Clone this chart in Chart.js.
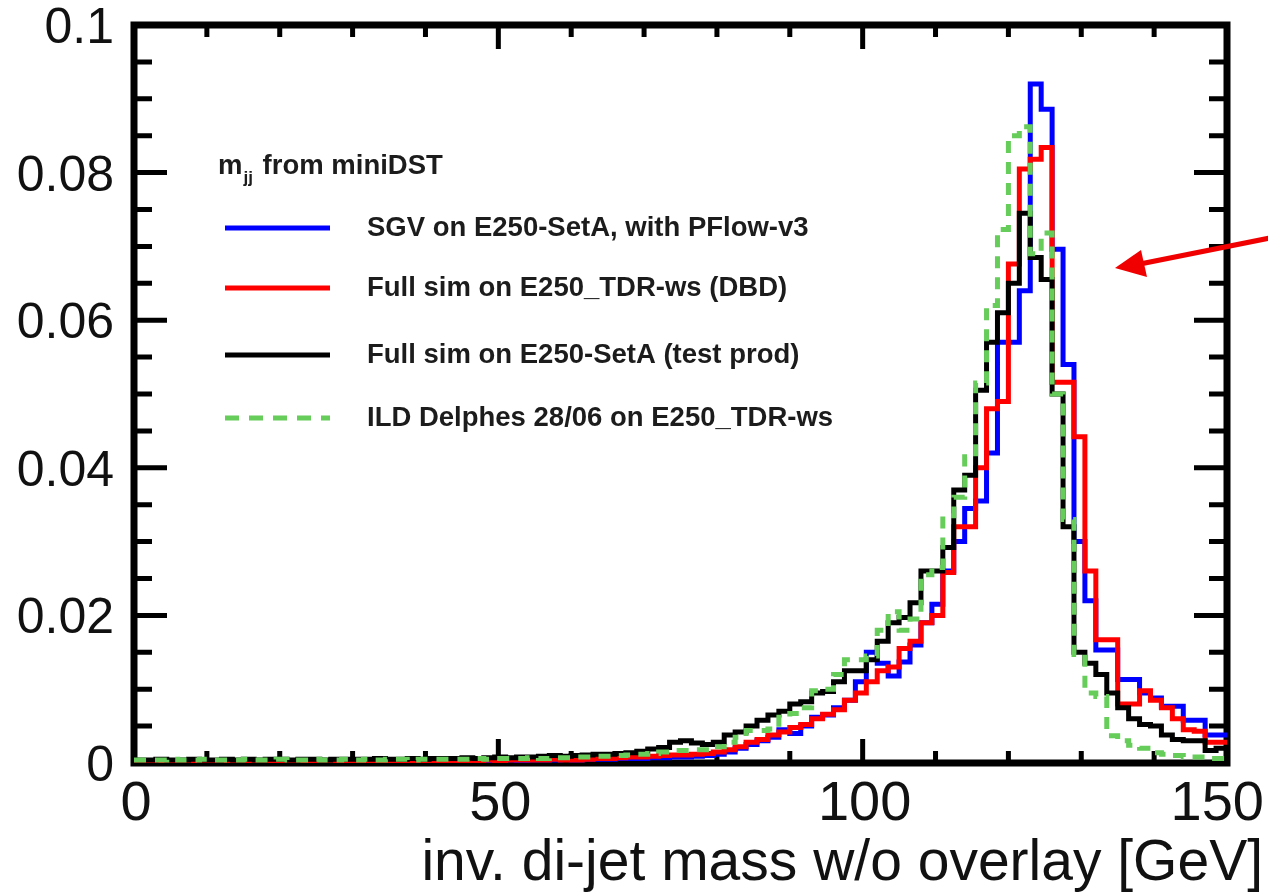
<!DOCTYPE html>
<html>
<head>
<meta charset="utf-8">
<title>inv. di-jet mass w/o overlay</title>
<script src="https://cdn.jsdelivr.net/npm/chart.js@4.4.1/dist/chart.umd.min.js"></script>
<style>
  html, body { margin: 0; padding: 0; background: #fff; }
  #wrap { width: 1268px; height: 895px; }
</style>
</head>
<body>
<div id="wrap"><canvas id="massChart" width="1268" height="895"></canvas></div>
<script>
// histogram: 100 bins of 1.5 GeV from 0 to 150
var binWidth = 1.5;

var sgvValues = [
  0.0002,0.0002,0.0003,0.0002,0.0002,0.0003,0.0002,0.0002,0.0002,0.0003,
  0.0002,0.0003,0.0002,0.0002,0.0003,0.0002,0.0003,0.0002,0.0002,0.0003,
  0.0003,0.0002,0.0003,0.0003,0.0002,0.0003,0.0003,0.0003,0.0004,0.0003,
  0.0003,0.0004,0.0003,0.0004,0.0004,0.0003,0.0004,0.0004,0.0004,0.0005,
  0.0004,0.0005,0.0005,0.0005,0.0006,0.0006,0.0006,0.0007,0.0007,0.0008,
  0.0008,0.0009,0.001,0.0012,0.0015,0.002,0.0025,0.003,0.0035,0.0045,
  0.004,0.005,0.0062,0.0065,0.0075,0.0085,0.011,0.015,0.0135,0.0118,
  0.0137,0.016,0.019,0.0215,0.026,0.030,0.0345,0.0355,0.042,0.057,
  0.057,0.064,0.092,0.0886,0.0696,0.054,0.030,0.022,0.0153,0.0153,
  0.0113,0.0113,0.0095,0.0088,0.0077,0.0077,0.0058,0.0058,0.0038,0.0038
];

var dbdValues = [
  0.0002,0.0002,0.0002,0.0003,0.0002,0.0002,0.0002,0.0003,0.0002,0.0002,
  0.0002,0.0002,0.0003,0.0002,0.0002,0.0003,0.0002,0.0002,0.0003,0.0002,
  0.0003,0.0002,0.0003,0.0002,0.0003,0.0003,0.0003,0.0002,0.0003,0.0003,
  0.0003,0.0003,0.0004,0.0003,0.0004,0.0004,0.0004,0.0004,0.0005,0.0004,
  0.0004,0.0005,0.0006,0.0006,0.0007,0.0008,0.0008,0.0009,0.001,0.0011,
  0.0011,0.0012,0.0013,0.0015,0.0018,0.0022,0.0028,0.0032,0.0038,0.0042,
  0.0048,0.0052,0.006,0.0066,0.0072,0.0085,0.0095,0.011,0.0125,0.013,
  0.0155,0.0165,0.019,0.020,0.0258,0.032,0.032,0.040,0.048,0.049,
  0.0676,0.0805,0.0818,0.0834,0.0516,0.0516,0.0442,0.026,0.0167,0.0167,
  0.008,0.008,0.0098,0.0085,0.0075,0.006,0.0045,0.0043,0.0028,0.0028
];

var setAValues = [
  0.0004,0.0004,0.0005,0.0004,0.0004,0.0005,0.0004,0.0004,0.0005,0.0004,
  0.0005,0.0004,0.0005,0.0005,0.0004,0.0005,0.0005,0.0004,0.0005,0.0005,
  0.0005,0.0005,0.0006,0.0005,0.0005,0.0006,0.0005,0.0006,0.0006,0.0006,
  0.0007,0.0006,0.0007,0.0008,0.0007,0.0008,0.0008,0.0009,0.001,0.0009,
  0.001,0.0011,0.0012,0.0012,0.0013,0.0014,0.0016,0.0019,0.0021,0.0028,
  0.003,0.0027,0.0025,0.0028,0.0038,0.0042,0.005,0.0058,0.0065,0.007,
  0.008,0.0083,0.0095,0.0097,0.011,0.0125,0.0125,0.014,0.0165,0.019,
  0.0197,0.0217,0.026,0.026,0.0292,0.037,0.039,0.0505,0.057,0.061,
  0.065,0.0745,0.0685,0.0655,0.050,0.032,0.015,0.0135,0.012,0.0095,
  0.0075,0.006,0.0052,0.005,0.0038,0.0032,0.003,0.003,0.0017,0.002
];

var delphesValues = [
  0.0004,0.0004,0.0004,0.0005,0.0004,0.0004,0.0005,0.0004,0.0004,0.0004,
  0.0005,0.0004,0.0004,0.0005,0.0004,0.0004,0.0005,0.0004,0.0004,0.0005,
  0.0004,0.0005,0.0004,0.0005,0.0005,0.0004,0.0005,0.0005,0.0005,0.0005,
  0.0005,0.0006,0.0005,0.0006,0.0006,0.0006,0.0007,0.0006,0.0007,0.0007,
  0.0008,0.0008,0.0009,0.0009,0.001,0.0011,0.0012,0.0013,0.0015,0.0017,
  0.0017,0.0018,0.0018,0.0022,0.0028,0.0035,0.0044,0.0044,0.0046,0.0062,
  0.0067,0.0075,0.0098,0.010,0.012,0.014,0.014,0.0145,0.018,0.0205,
  0.018,0.0195,0.0255,0.0265,0.0335,0.036,0.0415,0.0515,0.062,0.0723,
  0.085,0.0862,0.069,0.0718,0.050,0.033,0.0147,0.0095,0.009,0.0037,
  0.003,0.0024,0.002,0.0014,0.0012,0.001,0.0008,0.0008,0.0006,0.0006
];

var seriesNames = [
  'SGV on E250-SetA, with PFlow-v3',
  'Full sim on E250_TDR-ws (DBD)',
  'Full sim on E250-SetA (test prod)',
  'ILD Delphes 28/06 on E250_TDR-ws'
];
var seriesColors = ['#0000ff', '#ff0000', '#000000', '#66cc5a'];

var xMajorTicks = [0, 50, 100, 150];
var xTickLabels = ['0', '50', '100', '150'];
var yMajorTicks = [0, 0.02, 0.04, 0.06, 0.08, 0.1];
var yTickLabels = ['0', '0.02', '0.04', '0.06', '0.08', '0.1'];
var xTitle = 'inv. di-jet mass w/o overlay [GeV]';

var FONT = "'Liberation Sans', Arial, Helvetica, sans-serif";

// bin low edges + closing edge, drawn with stepped lines
function toSteps(values) {
    var pts = [];
    values.forEach(function(v, i) {
        pts.push({ x: i * binWidth, y: v });
    });
    pts.push({ x: values.length * binWidth, y: values[values.length - 1] });
    return pts;
}

function makeDataset(i, values, order) {
    return {
        label: seriesNames[i],
        data: toSteps(values),
        borderColor: seriesColors[i],
        borderWidth: 5,
        borderDash: i === 3 ? [12, 9] : [],
        stepped: true,
        pointRadius: 0,
        fill: false,
        borderJoinStyle: 'miter',
        borderCapStyle: 'butt',
        order: order
    };
}

var framePlugin = {
    id: 'frame',
    beforeDatasetsDraw: function(chart) {
        var ctx = chart.ctx;
        var a = chart.chartArea;
        var xs = chart.scales.x;
        var ys = chart.scales.y;
        ctx.save();
        ctx.strokeStyle = '#000';
        ctx.lineWidth = 7;
        ctx.strokeRect(a.left, a.top, a.right - a.left, a.bottom - a.top);

        ctx.lineWidth = 5;
        ctx.beginPath();
        // x ticks every 10 GeV, longer at the labelled ones
        for (var g = 0; g <= 150; g += 10) {
            var px = xs.getPixelForValue(g);
            var len = (g % 50 === 0) ? 24 : 12;
            ctx.moveTo(px, a.bottom); ctx.lineTo(px, a.bottom - len);
            ctx.moveTo(px, a.top); ctx.lineTo(px, a.top + len);
        }
        // y ticks every 0.005
        for (var k = 0; k <= 20; k++) {
            var py = ys.getPixelForValue(k * 0.005);
            var ylen = (k % 4 === 0) ? 33 : 18;
            ctx.moveTo(a.left, py); ctx.lineTo(a.left + ylen, py);
            ctx.moveTo(a.right, py); ctx.lineTo(a.right - ylen, py);
        }
        ctx.stroke();
        ctx.restore();
    },
    afterDraw: function(chart) {
        var ctx = chart.ctx;
        var xs = chart.scales.x;
        var ys = chart.scales.y;
        ctx.save();
        ctx.fillStyle = '#111';
        ctx.textBaseline = 'alphabetic';

        ctx.font = '50px ' + FONT;
        ctx.textAlign = 'right';
        yMajorTicks.forEach(function(v, i) {
            ctx.fillText(yTickLabels[i], 114, ys.getPixelForValue(v) + 18);
        });
        ctx.font = '56px ' + FONT;
        ctx.textAlign = 'center';
        xMajorTicks.forEach(function(v, i) {
            var px = xs.getPixelForValue(v) + 2;
            // keep the last label inside the canvas
            var half = ctx.measureText(xTickLabels[i]).width / 2;
            if (px + half > 1264) px = 1264 - half;
            ctx.fillText(xTickLabels[i], px, 820);
        });

        ctx.font = '57px ' + FONT;
        ctx.textAlign = 'right';
        ctx.fillText(xTitle, 1263, 880);

        // legend
        ctx.fillStyle = '#1c1c1c';
        ctx.textAlign = 'left';
        ctx.textBaseline = 'middle';
        ctx.font = 'bold 27.5px ' + FONT;
        var tx = 218, ty = 166;
        ctx.fillText('m', tx, ty);
        var mw = ctx.measureText('m').width;
        ctx.font = 'bold 17px ' + FONT;
        ctx.fillText('jj', tx + mw + 1, ty + 12);
        var jw = ctx.measureText('jj').width;
        ctx.font = 'bold 27.5px ' + FONT;
        ctx.fillText(' from miniDST', tx + mw + jw + 3, ty);

        var rows = [228, 288, 355, 418];
        ctx.font = 'bold 27.5px ' + FONT;
        rows.forEach(function(ry, i) {
            ctx.beginPath();
            ctx.strokeStyle = seriesColors[i];
            ctx.lineWidth = 5;
            ctx.setLineDash(i === 3 ? [14, 10] : []);
            ctx.moveTo(225, ry);
            ctx.lineTo(330, ry);
            ctx.stroke();
            ctx.setLineDash([]);
            ctx.fillText(seriesNames[i], 367, ry);
        });

        // red annotation arrow
        ctx.strokeStyle = '#f00000';
        ctx.fillStyle = '#f00000';
        ctx.lineWidth = 5;
        ctx.beginPath();
        ctx.moveTo(1270, 238);
        ctx.lineTo(1140, 264);
        ctx.stroke();
        ctx.beginPath();
        ctx.moveTo(1115, 268);
        ctx.lineTo(1141, 250);
        ctx.lineTo(1147, 277);
        ctx.closePath();
        ctx.fill();
        ctx.restore();
    }
};

var ctx = document.getElementById('massChart').getContext('2d');
var massChart = new Chart(ctx, {
    type: 'line',
    data: {
        datasets: [
            makeDataset(0, sgvValues, 4),
            makeDataset(1, dbdValues, 3),
            makeDataset(2, setAValues, 2),
            makeDataset(3, delphesValues, 1)
        ]
    },
    options: {
        responsive: false,
        animation: false,
        devicePixelRatio: 1,
        layout: { padding: { left: 134, right: 41, top: 25, bottom: 132 } },
        scales: {
            x: { type: 'linear', min: 0, max: 150, display: false },
            y: { type: 'linear', min: 0, max: 0.1, display: false }
        },
        plugins: {
            legend: { display: false },
            tooltip: { enabled: false }
        }
    },
    plugins: [framePlugin]
});
</script>
</body>
</html>
